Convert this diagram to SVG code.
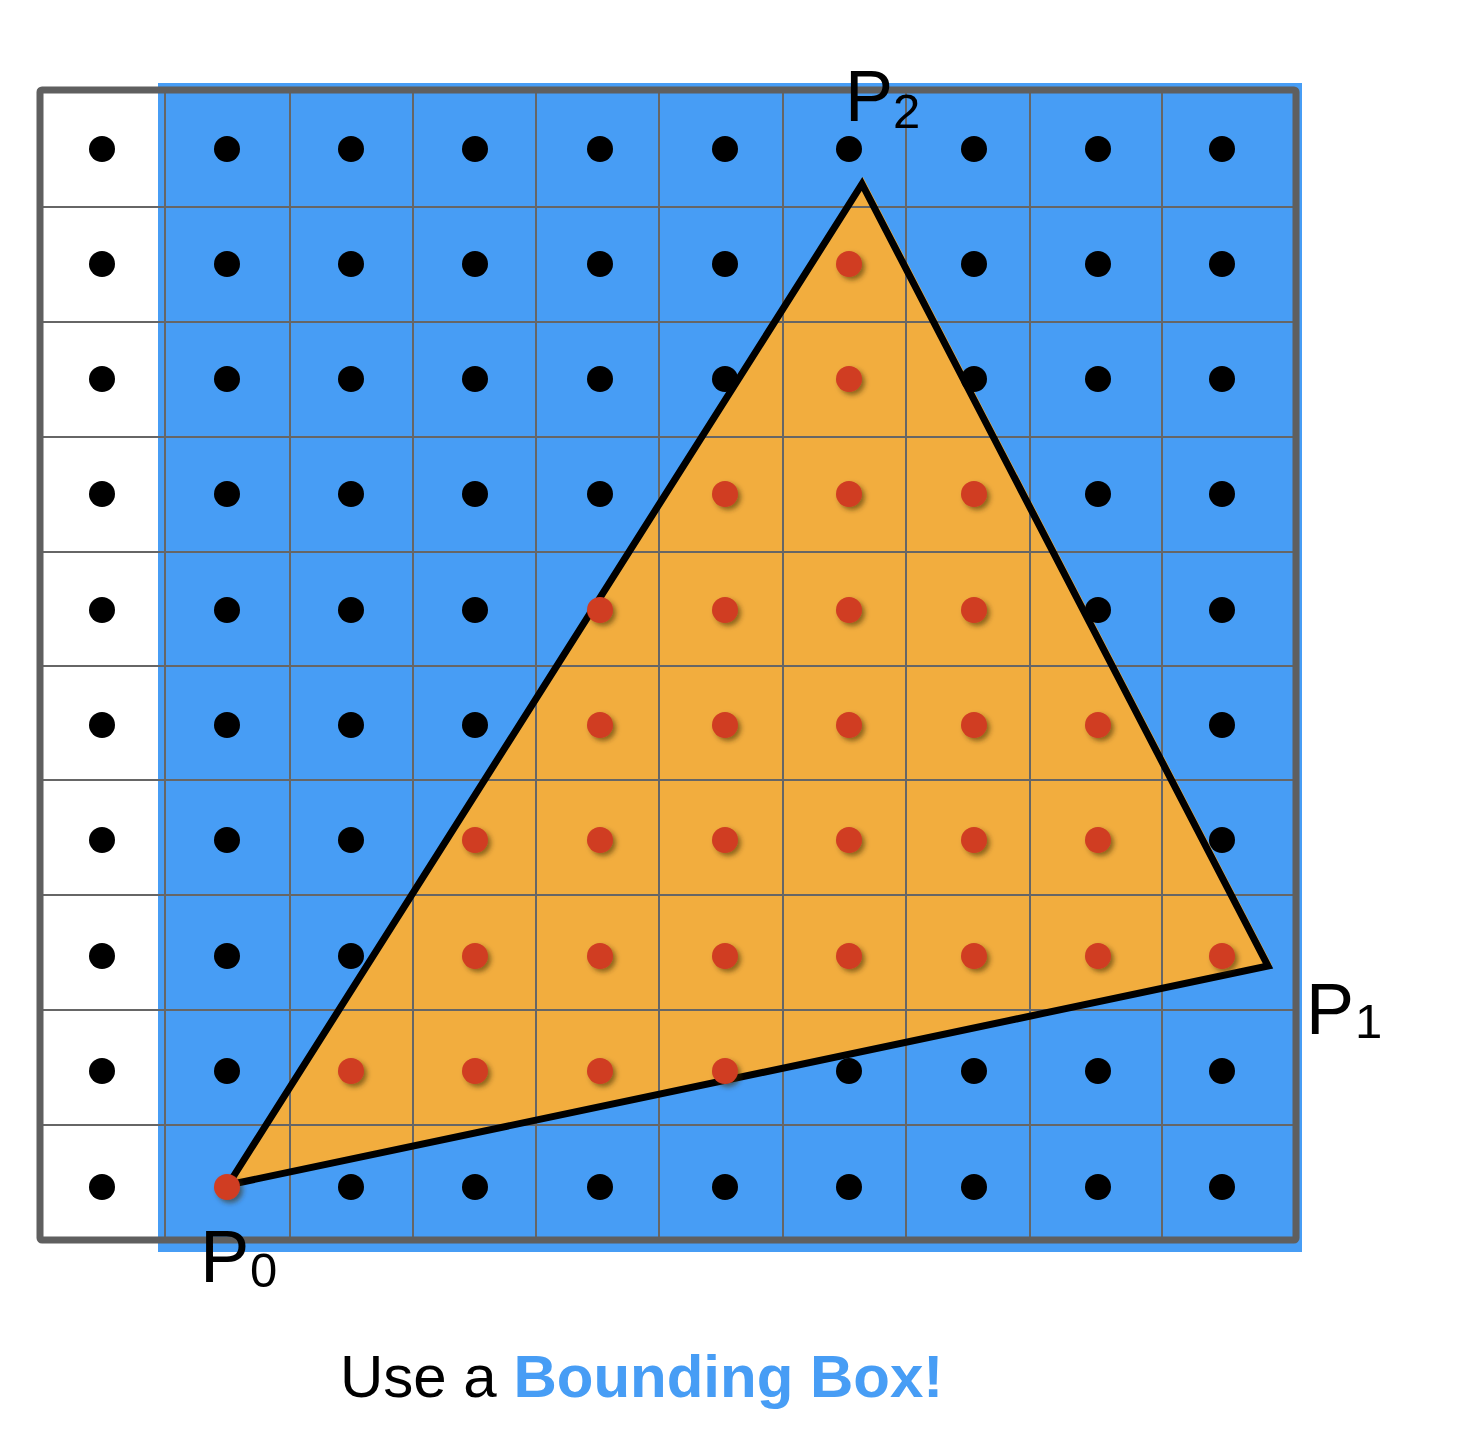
<svg xmlns="http://www.w3.org/2000/svg" width="1476" height="1434" viewBox="0 0 1476 1434">
<style>
.grid{stroke:#666;stroke-width:2;fill:none}
.bd{stroke:#5f5f5f;stroke-width:7;fill:none;stroke-linejoin:round}
.k{fill:#000}
.r{fill:#D03C22;filter:url(#sh)}
.lbl{font-family:"Liberation Sans",Arial,sans-serif;fill:#000}
</style>
<defs>
<filter id="sh" x="-50%" y="-50%" width="200%" height="200%">
<feDropShadow dx="3" dy="3" stdDeviation="2.5" flood-color="#3a2a00" flood-opacity="0.55"/>
</filter>
</defs>
<rect width="1476" height="1434" fill="#fff"/>
<g id="bbox">
<rect x="158" y="83" width="1144" height="1169" fill="#479DF5"/>
</g>
<g id="triangle-fill">
<polygon points="225,1187 1272,965 863,177" fill="#F2AD3E"/>
</g>
<g id="grid">
<path class="grid" d="M165 90V1240M290 90V1240M413 90V1240M536 90V1240M659 90V1240M783 90V1240M906 90V1240M1030 90V1240M1162 90V1240"/>
<path class="grid" d="M40 207H1296M40 322H1296M40 437H1296M40 552H1296M40 666H1296M40 780H1296M40 895H1296M40 1010H1296M40 1125H1296"/>
<rect class="bd" x="40" y="90" width="1256" height="1150" rx="2"/>
</g>
<g id="triangle">
<polygon points="228,1185 1268,966 862,184" fill="none" stroke="#000" stroke-width="7" stroke-linejoin="miter"/>
</g>
<g id="samples">
<g class="k">
<circle cx="102" cy="149" r="13"/><circle cx="227" cy="149" r="13"/><circle cx="351" cy="149" r="13"/><circle cx="475" cy="149" r="13"/><circle cx="600" cy="149" r="13"/><circle cx="725" cy="149" r="13"/><circle cx="849" cy="149" r="13"/><circle cx="974" cy="149" r="13"/><circle cx="1098" cy="149" r="13"/><circle cx="1222" cy="149" r="13"/>
<circle cx="102" cy="264" r="13"/><circle cx="227" cy="264" r="13"/><circle cx="351" cy="264" r="13"/><circle cx="475" cy="264" r="13"/><circle cx="600" cy="264" r="13"/><circle cx="725" cy="264" r="13"/><circle cx="974" cy="264" r="13"/><circle cx="1098" cy="264" r="13"/><circle cx="1222" cy="264" r="13"/>
<circle cx="102" cy="379" r="13"/><circle cx="227" cy="379" r="13"/><circle cx="351" cy="379" r="13"/><circle cx="475" cy="379" r="13"/><circle cx="600" cy="379" r="13"/><circle cx="725" cy="379" r="13"/><circle cx="974" cy="379" r="13"/><circle cx="1098" cy="379" r="13"/><circle cx="1222" cy="379" r="13"/>
<circle cx="102" cy="494" r="13"/><circle cx="227" cy="494" r="13"/><circle cx="351" cy="494" r="13"/><circle cx="475" cy="494" r="13"/><circle cx="600" cy="494" r="13"/><circle cx="1098" cy="494" r="13"/><circle cx="1222" cy="494" r="13"/>
<circle cx="102" cy="610" r="13"/><circle cx="227" cy="610" r="13"/><circle cx="351" cy="610" r="13"/><circle cx="475" cy="610" r="13"/><circle cx="1098" cy="610" r="13"/><circle cx="1222" cy="610" r="13"/>
<circle cx="102" cy="725" r="13"/><circle cx="227" cy="725" r="13"/><circle cx="351" cy="725" r="13"/><circle cx="475" cy="725" r="13"/><circle cx="1222" cy="725" r="13"/>
<circle cx="102" cy="840" r="13"/><circle cx="227" cy="840" r="13"/><circle cx="351" cy="840" r="13"/><circle cx="1222" cy="840" r="13"/>
<circle cx="102" cy="956" r="13"/><circle cx="227" cy="956" r="13"/><circle cx="351" cy="956" r="13"/>
<circle cx="102" cy="1071" r="13"/><circle cx="227" cy="1071" r="13"/><circle cx="849" cy="1071" r="13"/><circle cx="974" cy="1071" r="13"/><circle cx="1098" cy="1071" r="13"/><circle cx="1222" cy="1071" r="13"/>
<circle cx="102" cy="1187" r="13"/><circle cx="351" cy="1187" r="13"/><circle cx="475" cy="1187" r="13"/><circle cx="600" cy="1187" r="13"/><circle cx="725" cy="1187" r="13"/><circle cx="849" cy="1187" r="13"/><circle cx="974" cy="1187" r="13"/><circle cx="1098" cy="1187" r="13"/><circle cx="1222" cy="1187" r="13"/>
</g>
<g class="r">
<circle cx="849" cy="264" r="13"/>
<circle cx="849" cy="379" r="13"/>
<circle cx="725" cy="494" r="13"/><circle cx="849" cy="494" r="13"/><circle cx="974" cy="494" r="13"/>
<circle cx="600" cy="610" r="13"/><circle cx="725" cy="610" r="13"/><circle cx="849" cy="610" r="13"/><circle cx="974" cy="610" r="13"/>
<circle cx="600" cy="725" r="13"/><circle cx="725" cy="725" r="13"/><circle cx="849" cy="725" r="13"/><circle cx="974" cy="725" r="13"/><circle cx="1098" cy="725" r="13"/>
<circle cx="475" cy="840" r="13"/><circle cx="600" cy="840" r="13"/><circle cx="725" cy="840" r="13"/><circle cx="849" cy="840" r="13"/><circle cx="974" cy="840" r="13"/><circle cx="1098" cy="840" r="13"/>
<circle cx="475" cy="956" r="13"/><circle cx="600" cy="956" r="13"/><circle cx="725" cy="956" r="13"/><circle cx="849" cy="956" r="13"/><circle cx="974" cy="956" r="13"/><circle cx="1098" cy="956" r="13"/><circle cx="1222" cy="956" r="13"/>
<circle cx="351" cy="1071" r="13"/><circle cx="475" cy="1071" r="13"/><circle cx="600" cy="1071" r="13"/><circle cx="725" cy="1071" r="13"/>
<circle cx="227" cy="1187" r="13"/>
</g>
</g>
<g id="label-p2" class="lbl"><text x="845" y="121" font-size="72">P</text><text x="893" y="128" font-size="49">2</text></g>
<g id="label-p1" class="lbl"><text x="1306" y="1034" font-size="72">P</text><text x="1355" y="1038" font-size="49">1</text></g>
<g id="label-p0" class="lbl"><text x="200" y="1282" font-size="74">P</text><text x="250" y="1287" font-size="49">0</text></g>
<g id="caption"><text x="340" y="1397" font-size="60" font-family="'Liberation Sans',Arial,sans-serif" fill="#000">Use a <tspan fill="#479DF5" font-weight="bold">Bounding Box!</tspan></text></g>
</svg>
